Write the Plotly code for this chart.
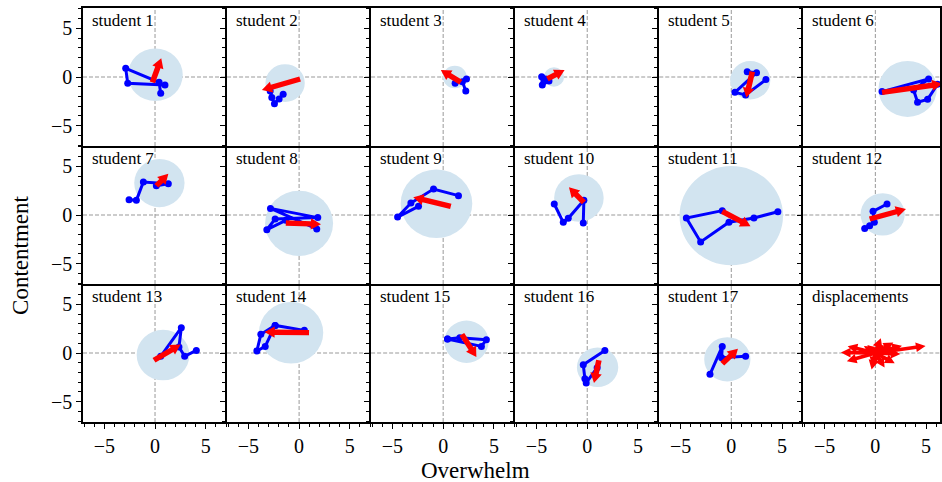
import math
import plotly.graph_objects as go
from plotly.subplots import make_subplots

labels = [f"student {i}" for i in range(1, 18)] + ["displacements"]

# circle (spread) per student
circle_cx = [0.03, -1.38, 1.15, -3.28, 1.87, 3.18, 0.43, 0.0, -0.66, -0.82, 0.0, 0.72, 0.79, -0.79, 2.30, 1.02, -0.39]
circle_cy = [0.22, -0.62, 0.0, 0.0, -0.34, -1.23, 3.29, -0.86, 1.16, 1.75, -0.07, 0.07, -0.21, 2.09, 1.16, -1.47, -0.65]
circle_r = [2.7, 1.94, 1.17, 1.0, 1.98, 2.88, 2.48, 3.35, 3.53, 2.44, 5.1, 2.18, 2.6, 3.17, 2.18, 2.04, 2.28]

# trajectories (Overwhelm, Contentment)
path_x = [
    [0.56, 0.40, -2.89, -2.69, 0.98],
    [-1.57, -1.97, -2.43, -2.69, -2.85],
    [1.18, 2.30, 1.90, 2.23],
    [-4.10, -4.49, -4.43, -3.77],
    [1.57, 2.49, 0.36, 1.41, 3.41],
    [0.66, 5.25, 3.77, 4.16, 5.15, 6.13],
    [-2.56, -1.84, -1.15, 1.31, 0.13],
    [-1.31, -3.18, -2.36, 1.84, -2.82, 1.74],
    [-2.43, -4.49, -3.18, -0.95, 1.51],
    [-3.25, -2.36, -1.87, -0.33, -0.39],
    [-0.89, -4.43, -3.02, -0.23, 2.23, 4.59],
    [1.15, -0.23, -0.10, -1.05, -0.56],
    [0.56, 2.59, 2.36, 2.92, 4.07],
    [0.52, -2.36, -3.77, -4.16, -3.34, -2.36],
    [0.43, 1.64, 4.26, 3.77, 0.43],
    [1.74, -0.39, -0.23, -0.10, 0.98],
    [-2.10, -0.89, -0.95, 1.41],
]
path_y = [
    [-1.68, -0.55, 0.89, -0.65, -0.82],
    [-1.78, -2.26, -2.74, -2.12, -1.44],
    [-0.65, -0.20, -0.48, -1.44],
    [-0.20, 0.03, -0.82, -0.41],
    [0.55, 0.45, -1.58, -1.85, -0.27],
    [-1.50, -0.20, -1.34, -2.60, -2.30, -0.75],
    [1.58, 1.51, 3.39, 3.22, 3.01],
    [-0.55, -1.51, -0.41, -0.27, 0.68, -1.44],
    [0.89, -0.21, 1.23, 2.67, 1.99],
    [1.13, -0.75, -0.34, 1.51, -0.82],
    [0.45, -0.31, -2.77, -0.75, -0.31, 0.34],
    [1.13, 0.38, -0.75, -1.40, -1.10],
    [-0.34, 2.60, 0.62, -0.34, 0.27],
    [2.33, 2.84, 1.92, 0.21, 0.68, 2.84],
    [1.44, 1.58, 1.37, 0.68, 1.44],
    [0.27, -1.20, -2.64, -3.08, -1.51],
    [-2.19, 0.68, -0.48, -0.34],
]

# red arrows: start point and displacement
arrow_x0 = [-0.26, 0.10, 1.74, -3.93, 2.07, 0.66, 0.13, -1.31, 0.75, -0.33, -0.89, -0.56, -0.10, 0.98, 1.84, 1.15, -0.89]
arrow_y0 = [-0.55, -0.20, -0.55, -0.20, 0.55, -1.58, 3.01, -0.82, 0.89, 1.30, 0.38, -0.41, -0.75, 2.09, 1.92, -0.75, -1.10]
arrow_dx = [0.54, -2.81, -1.13, 0.82, -0.37, 4.95, 0.49, 2.47, -2.73, -0.78, 1.91, 2.62, 1.77, -3.39, 0.91, -0.28, 0.84]
arrow_dy = [1.53, -0.85, 0.73, 0.44, -1.69, 0.73, 0.51, -0.10, 0.69, 0.82, -1.06, 0.75, 1.09, 0.05, -1.48, -1.35, 0.84]

xticks = [-5, 0, 5]

SERIF = "Liberation Serif"
W, H = 942, 482
ML, MR, MT, MB = 83, 0, 8, 60
col_w = 144.4
last_w = (W - ML - MR) - 5 * col_w
XR = 7.1
xscale = col_w / (2 * XR)
last_range = [-XR, -XR + last_w / xscale]

fig = make_subplots(rows=3, cols=6, horizontal_spacing=0, vertical_spacing=0,
                    column_widths=[col_w] * 5 + [last_w])


def arrow_poly(x0, y0, dx, dy, w, hw, hl, include_head):
    L = math.hypot(dx, dy)
    ux, uy = dx / L, dy / L
    nx, ny = -uy, ux
    if include_head:
        tx, ty = x0 + dx, y0 + dy
        h = min(hl, L)
    else:
        tx, ty = x0 + dx + ux * hl, y0 + dy + uy * hl
        h = hl
    bx, by = tx - ux * h, ty - uy * h
    pts = [
        (x0 + nx * w / 2, y0 + ny * w / 2),
        (bx + nx * w / 2, by + ny * w / 2),
        (bx + nx * hw / 2, by + ny * hw / 2),
        (tx, ty),
        (bx - nx * hw / 2, by - ny * hw / 2),
        (bx - nx * w / 2, by - ny * w / 2),
        (x0 - nx * w / 2, y0 - ny * w / 2),
        (x0 + nx * w / 2, y0 + ny * w / 2),
    ]
    return [p[0] for p in pts], [p[1] for p in pts]


for k in range(18):
    r, c = k // 6 + 1, k % 6 + 1
    idx = k + 1
    xs = "x" if idx == 1 else f"x{idx}"
    ys = "y" if idx == 1 else f"y{idx}"
    if k < 17:
        fig.add_shape(type="circle", xref=xs, yref=ys,
                      x0=circle_cx[k] - circle_r[k], x1=circle_cx[k] + circle_r[k],
                      y0=circle_cy[k] - circle_r[k], y1=circle_cy[k] + circle_r[k],
                      fillcolor="rgb(210,228,240)", line=dict(width=0), layer="below")
    fig.add_shape(type="line", xref=f"{xs} domain", yref=ys, x0=0, x1=1, y0=0, y1=0,
                  line=dict(color="#999999", width=1, dash="4px,2px"), layer="below")
    fig.add_shape(type="line", xref=xs, yref=f"{ys} domain", x0=0, x1=0, y0=0, y1=1,
                  line=dict(color="#999999", width=1, dash="4px,2px"), layer="below")
    if k < 17:
        fig.add_trace(go.Scatter(x=path_x[k], y=path_y[k], mode="lines+markers",
                                 line=dict(color="#0000ff", width=3),
                                 marker=dict(color="#0000ff", size=7),
                                 showlegend=False, hoverinfo="skip"), row=r, col=c)
        ax, ay = arrow_poly(arrow_x0[k], arrow_y0[k], arrow_dx[k], arrow_dy[k],
                            0.55, 1.15, 1.0, False)
        fig.add_trace(go.Scatter(x=ax, y=ay, mode="lines", fill="toself",
                                 fillcolor="#ff0000", line=dict(width=0, color="#ff0000"),
                                 showlegend=False, hoverinfo="skip"), row=r, col=c)
    else:
        for j in range(17):
            ax, ay = arrow_poly(0, 0, arrow_dx[j], arrow_dy[j], 0.38, 1.0, 0.95, True)
            fig.add_trace(go.Scatter(x=ax, y=ay, mode="lines", fill="toself",
                                     fillcolor="#ff0000", line=dict(width=0, color="#ff0000"),
                                     showlegend=False, hoverinfo="skip"), row=r, col=c)
    fig.add_annotation(text=labels[k], xref=f"{xs} domain", yref=f"{ys} domain",
                       x=0, y=1, xanchor="left", yanchor="top", xshift=7, yshift=-1,
                       showarrow=False, font=dict(family=SERIF, size=17, color="black"))

    xa = dict(range=last_range if c == 6 else [-XR, XR], tickvals=xticks,
              showgrid=False, zeroline=False, showline=True, mirror=(r == 1),
              linecolor="black", linewidth=1.6,
              showticklabels=(r == 3),
              ticks="outside" if r == 3 else "", ticklen=5, tickwidth=1.2, tickcolor="black",
              tickfont=dict(family=SERIF, size=20, color="black"))
    if r == 3:
        xa["minor"] = dict(dtick=1, tick0=0, ticks="outside", ticklen=3, tickwidth=1, tickcolor="black")
    ya = dict(range=[-XR, XR], tickvals=xticks,
              showgrid=False, zeroline=False, showline=True, mirror=(c == 6),
              linecolor="black", linewidth=1.6,
              showticklabels=(c == 1),
              ticks="outside", ticklen=5, tickwidth=1.2, tickcolor="black",
              tickfont=dict(family=SERIF, size=20, color="black"),
              minor=dict(dtick=1, tick0=0, ticks="outside", ticklen=3, tickwidth=1, tickcolor="black"))
    fig.update_xaxes(xa, row=r, col=c)
    fig.update_yaxes(ya, row=r, col=c)

pw = W - ML - MR
ph = H - MT - MB
fig.add_annotation(text="Overwhelm", xref="paper", yref="paper",
                   x=(476.7 - ML) / pw, y=(H - MB - 470) / ph, xanchor="center", yanchor="middle",
                   showarrow=False, font=dict(family=SERIF, size=23, color="black"))
fig.add_annotation(text="Contentment", xref="paper", yref="paper", textangle=-90,
                   x=(21 - ML) / pw, y=(H - MB - 255.8) / ph, xanchor="center", yanchor="middle",
                   showarrow=False, font=dict(family=SERIF, size=23, color="black"))

fig.update_layout(width=W, height=H, margin=dict(l=ML, r=MR, t=MT, b=MB),
                  paper_bgcolor="white", plot_bgcolor="white", showlegend=False)
fig.write_html("out.html")
